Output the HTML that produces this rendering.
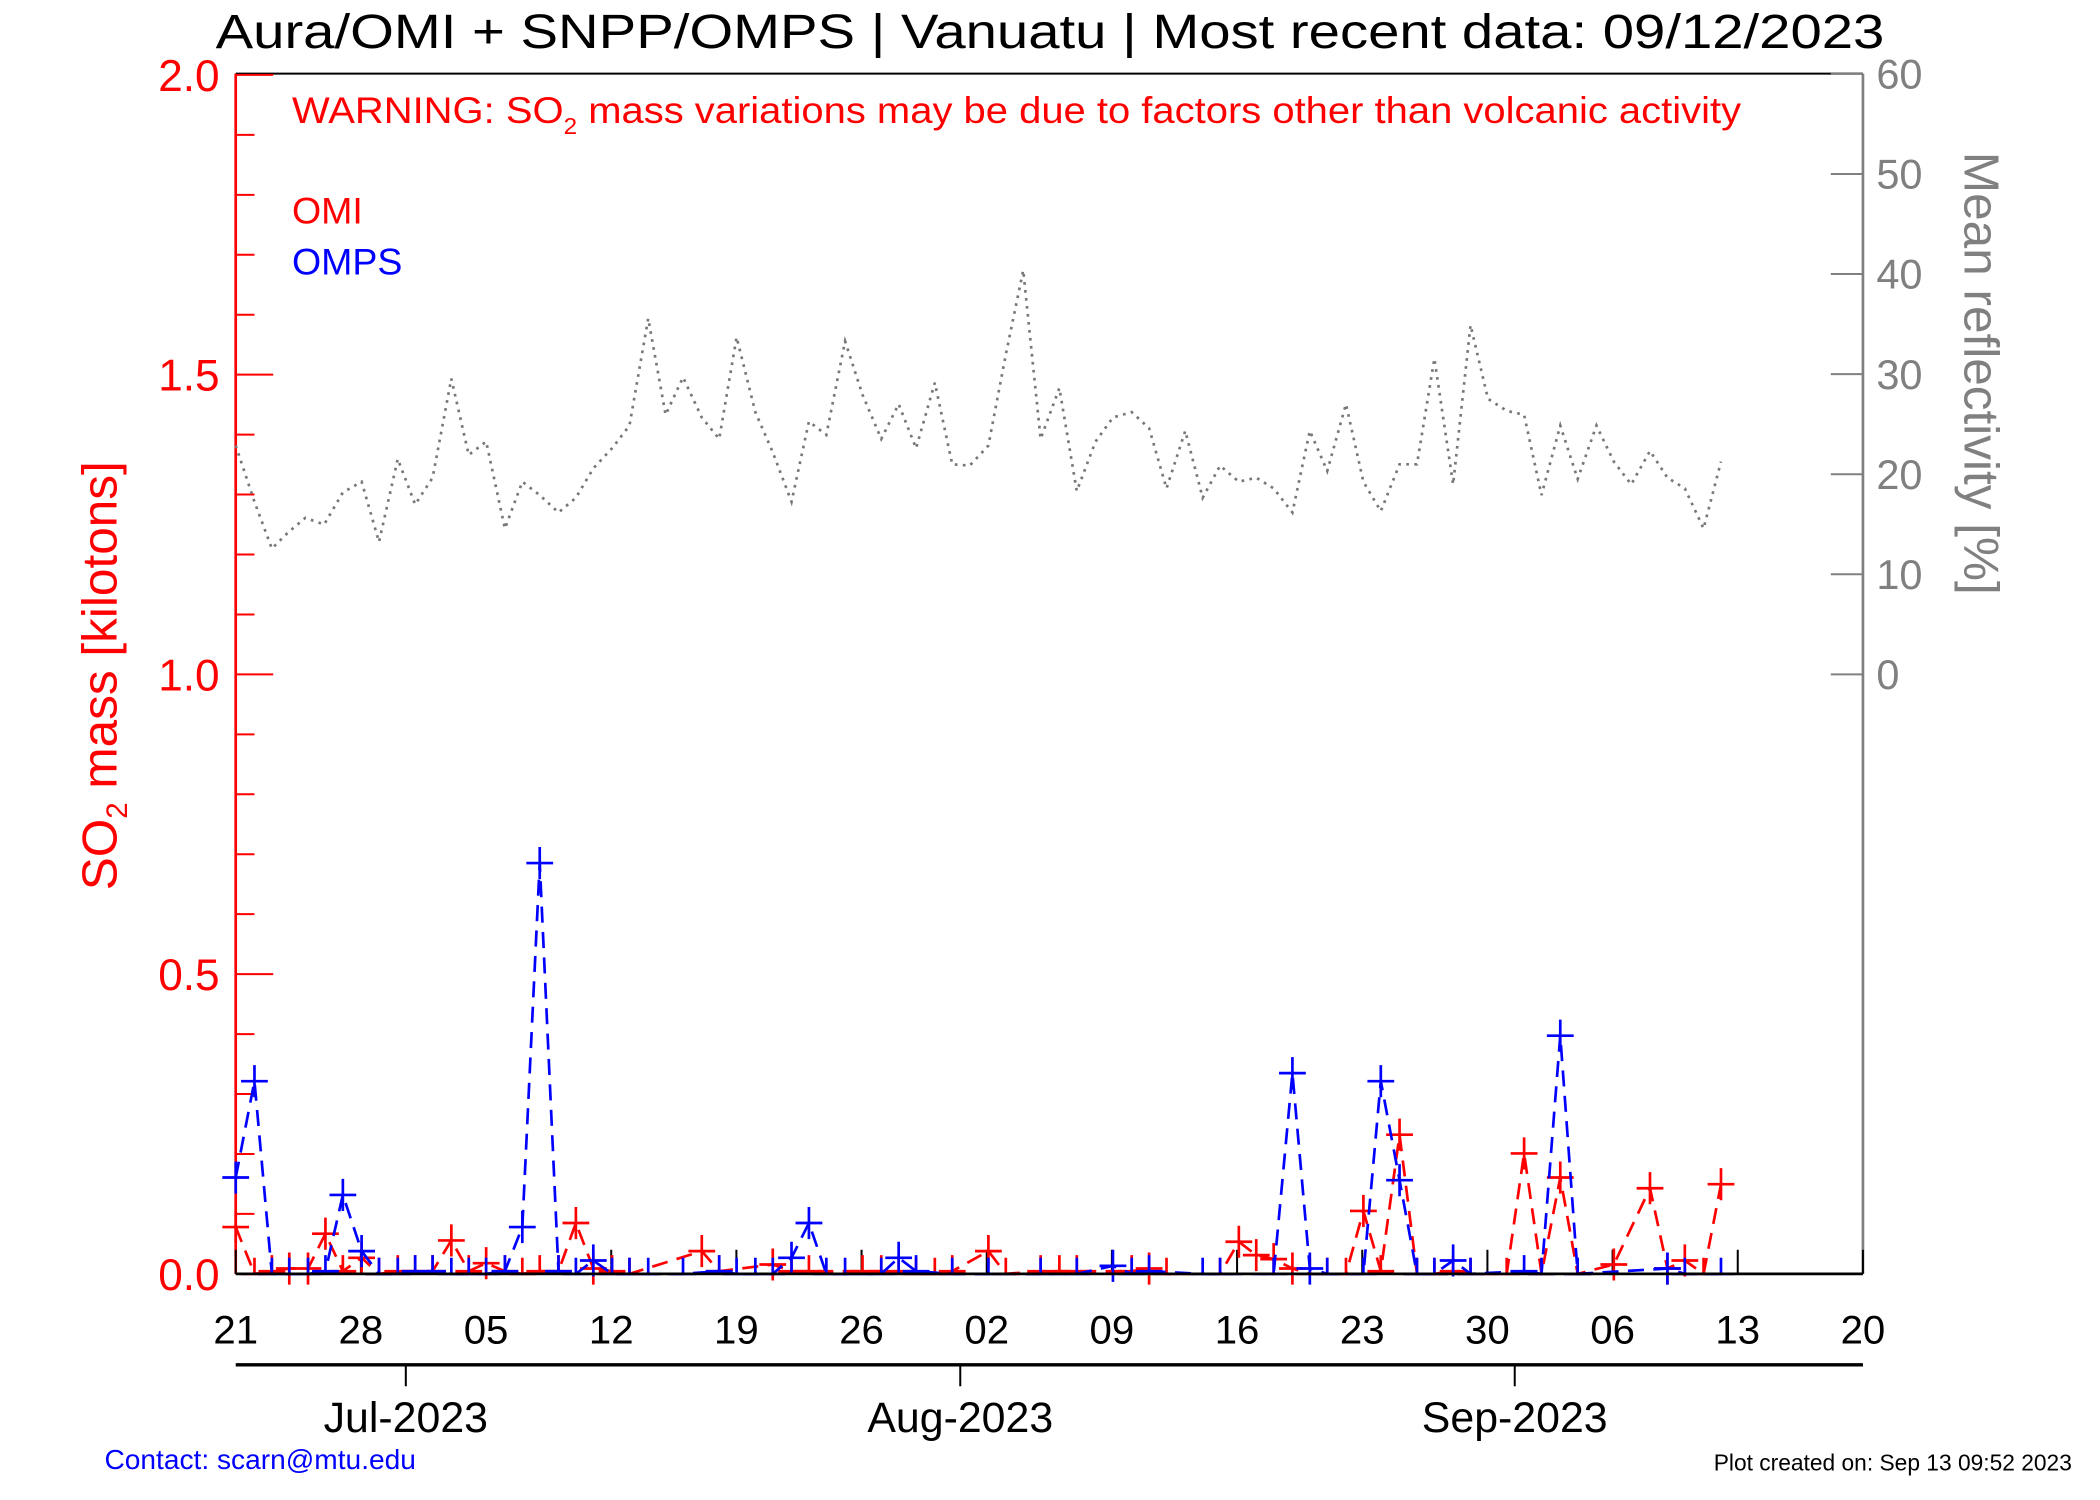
<!DOCTYPE html>
<html><head><meta charset="utf-8"><style>
html,body{margin:0;padding:0;background:#fff;}
svg{display:block;font-family:"Liberation Sans",sans-serif;}
</style></head><body>
<svg id="s" width="2100" height="1500" viewBox="0 0 1568 1121" preserveAspectRatio="none" xmlns="http://www.w3.org/2000/svg">
<rect width="1568" height="1121" fill="#fff"/>
<text x="784" y="36" font-size="36" text-anchor="middle" fill="#000" textLength="1246" lengthAdjust="spacingAndGlyphs">Aura/OMI + SNPP/OMPS | Vanuatu | Most recent data: 09/12/2023</text>
<text x="218" y="92" font-size="28" fill="red" textLength="1082" lengthAdjust="spacingAndGlyphs">WARNING: SO<tspan font-size="17" dy="8">2</tspan><tspan dy="-8"> mass variations may be due to factors other than volcanic activity</tspan></text>
<text x="218" y="167" font-size="28" fill="red">OMI</text>
<text x="218" y="205" font-size="28" fill="blue">OMPS</text>
<g id="ax"></g>
<text font-size="37" fill="red" transform="translate(87,505) rotate(-90)" text-anchor="middle">SO<tspan font-size="22" dy="8">2</tspan><tspan dy="-8"> mass [kilotons]</tspan></text>
<text font-size="37" fill="#808080" transform="translate(1467,279) rotate(90)" text-anchor="middle">Mean reflectivity [%]</text>
<text x="303" y="1070" font-size="32" text-anchor="middle">Jul-2023</text>
<text x="717" y="1070" font-size="32" text-anchor="middle">Aug-2023</text>
<text x="1131" y="1070" font-size="32" text-anchor="middle">Sep-2023</text>
<text x="78" y="1098" font-size="21" fill="blue">Contact: scarn@mtu.edu</text>
<text x="1547" y="1099" font-size="17" text-anchor="end">Plot created on: Sep 13 09:52 2023</text>
</svg>
<script>
const g=document.getElementById('ax');let h='';
const L=176,R=1391,T=55,B=952;
h+=`<line x1="${L}" y1="${T}" x2="${L}" y2="${B}" stroke="red" stroke-width="2"/>`;
h+=`<line x1="${R}" y1="${T}" x2="${R}" y2="${B}" stroke="#808080" stroke-width="2"/>`;
h+=`<line x1="${L}" y1="${T}" x2="${R}" y2="${T}" stroke="#000" stroke-width="1.5"/>`;
for(let i=0;i<=20;i++){const y=952-44.8*i;const maj=i%5==0;h+=`<line x1="${L}" y1="${y}" x2="${L+(maj?28:14)}" y2="${y}" stroke="red" stroke-width="1.5"/>`;
 if(maj)h+=`<text x="164" y="${y+12}" font-size="33" fill="red" text-anchor="end">${(i/10).toFixed(1)}</text>`;}
for(let r=0;r<=60;r+=10){const y=504-7.48*r;h+=`<line x1="${R-24}" y1="${y}" x2="${R}" y2="${y}" stroke="#808080" stroke-width="1.5"/><text x="1401" y="${y+11}" font-size="31" fill="#808080">${r}</text>`;}
const lab=['21','28','05','12','19','26','02','09','16','23','30','06','13','20'];
for(let i=0;i<14;i++){const x=L+93.46*i;h+=`<line x1="${x}" y1="${B}" x2="${x}" y2="${B-18}" stroke="#000" stroke-width="1.5"/><text x="${x}" y="1004" font-size="30" text-anchor="middle">${lab[i]}</text>`;}
h+=`<line x1="${L}" y1="1020" x2="${R}" y2="1020" stroke="#000" stroke-width="2.5"/>`;
for(const x of [303,717,1131])h+=`<line x1="${x}" y1="1020" x2="${x}" y2="1036" stroke="#000" stroke-width="1.5"/>`;
const ref=[[176,333],[190,375],[203,410],[215,398],[228,387],[242,392],[256,368],[270,360],[283,405],[297,343],[310,377],[323,357],[337,283],[350,340],[363,330],[377,395],[390,360],[403,370],[417,383],[430,372],[443,350],[457,335],[470,318],[484,238],[497,310],[510,282],[524,312],[537,328],[550,252],[564,308],[577,338],[591,375],[604,315],[617,325],[631,255],[644,295],[658,328],[671,302],[684,335],[698,286],[711,347],[724,348],[738,333],[751,265],[764,202],[777,328],[791,290],[804,367],[818,330],[831,312],[845,308],[858,320],[871,365],[885,322],[898,372],[911,348],[925,360],[938,357],[951,365],[965,383],[978,322],[991,352],[1005,302],[1018,360],[1031,382],[1045,347],[1058,347],[1071,268],[1085,362],[1098,243],[1111,298],[1125,307],[1138,310],[1151,370],[1165,318],[1178,358],[1192,318],[1205,345],[1218,362],[1232,337],[1245,357],[1258,365],[1272,395],[1285,345]];
h+=`<polyline fill="none" stroke="#777" stroke-width="2" stroke-dasharray="2,4" points="${ref.map(p=>p.join(',')).join(' ')}"/>`;
const red=[[176,917],[190,952],[203,950],[216,948],[230,948],[243,922],[256,950],[270,940],[283,952],[297,950],[310,950],[323,950],[337,927],[350,950],[363,944],[377,950],[390,952],[403,950],[417,950],[430,914],[443,948],[457,950],[470,952],[524,935],[537,950],[577,945],[591,950],[604,950],[644,950],[658,950],[671,950],[684,952],[698,952],[711,950],[738,935],[751,952],[777,950],[791,950],[804,950],[845,950],[858,948],[871,952],[911,952],[925,928],[938,938],[951,941],[965,948],[978,952],[991,952],[1005,952],[1018,905],[1031,950],[1045,848],[1058,952],[1071,952],[1085,950],[1098,952],[1125,952],[1138,862],[1151,952],[1165,880],[1178,952],[1205,945],[1232,888],[1245,948],[1258,942],[1272,952],[1285,885]];
const blue=[[176,880],[190,808],[203,952],[216,952],[230,952],[243,950],[256,893],[270,935],[283,952],[297,952],[310,950],[323,950],[337,952],[350,952],[363,952],[377,950],[390,917],[403,645],[417,950],[430,952],[443,942],[457,952],[470,952],[484,952],[510,952],[537,950],[550,952],[564,952],[577,952],[591,940],[604,914],[617,952],[631,952],[658,952],[671,940],[684,950],[711,952],[738,952],[777,952],[804,952],[831,946],[845,952],[858,950],[898,952],[911,952],[951,952],[965,802],[978,948],[991,952],[1018,952],[1031,808],[1045,882],[1058,952],[1071,952],[1085,942],[1098,952],[1138,950],[1151,952],[1165,774],[1178,952],[1245,948],[1258,952],[1285,952]];
function ser(d,c){let s=`<polyline fill="none" stroke="${c}" stroke-width="2" stroke-dasharray="12,7" points="${d.map(p=>p.join(',')).join(' ')}"/>`;
 let m='';for(const[x,y]of d)m+=`M${x-10} ${y}h20M${x} ${y-12}v${y>948?12:24}`;return s+`<path d="${m}" stroke="${c}" stroke-width="2" fill="none"/>`;}
h+=ser(red,'red')+ser(blue,'blue');
h+=`<line x1="${L}" y1="${B}" x2="${R}" y2="${B}" stroke="#000" stroke-width="2"/>`;
g.innerHTML=h;
</script>
</body></html>
